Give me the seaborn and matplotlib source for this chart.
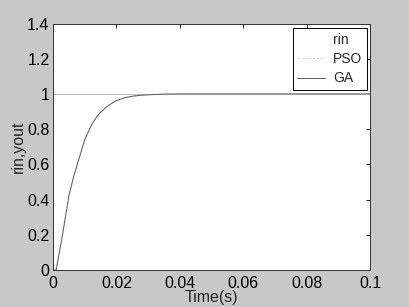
import matplotlib
matplotlib.use("Agg")
import matplotlib.pyplot as plt
import seaborn as sns
import numpy as np
import pandas as pd

# Data
t = [0.0, 0.001, 0.002, 0.003, 0.004, 0.005, 0.0065, 0.0075, 0.009, 0.010, 0.0115,
     0.0125, 0.014, 0.015, 0.0165, 0.0175, 0.019, 0.02, 0.0225, 0.025, 0.0275,
     0.03, 0.035, 0.04, 0.06, 0.08, 0.1]
ga = [0.0, 0.0, 0.10, 0.20, 0.31, 0.42, 0.53, 0.59, 0.68, 0.74, 0.80,
      0.835, 0.875, 0.895, 0.92, 0.935, 0.952, 0.962, 0.978, 0.987, 0.992,
      0.995, 0.999, 1.0, 1.0, 1.0, 1.0]
pso = [0.0, 0.0, 0.10, 0.20, 0.31, 0.42, 0.53, 0.59, 0.68, 0.74, 0.80,
       0.835, 0.875, 0.895, 0.92, 0.935, 0.952, 0.962, 0.978, 0.987, 0.992,
       0.995, 0.999, 1.0, 1.0, 1.0, 1.0]
rin = [1.0] * len(t)

xticks = [0, 0.02, 0.04, 0.06, 0.08, 0.1]
xticklabels = ["0", "0.02", "0.04", "0.06", "0.08", "0.1"]
yticks = [0, 0.2, 0.4, 0.6, 0.8, 1.0, 1.2, 1.4]
yticklabels = ["0", "0.2", "0.4", "0.6", "0.8", "1", "1.2", "1.4"]

sns.set_style("white")
plt.rcParams["font.family"] = ["Liberation Sans", "DejaVu Sans"]

bg = "#c8c8c8"
fs = 11.5
fig = plt.figure(figsize=(4.09, 3.07), dpi=100, facecolor=bg)
ax = fig.add_axes([53/409, 1 - 270/307, (370-53)/409, (270-23.5)/307])
ax.set_facecolor("white")

df = pd.DataFrame({"t": t, "rin": rin, "PSO": pso, "GA": ga})
sns.lineplot(data=df, x="t", y="rin", ax=ax, color="#bdbdbd", lw=0.8, label="rin")
sns.lineplot(data=df, x="t", y="PSO", ax=ax, color="#d8d8d8", lw=0.8, ls=(0, (2, 1.5)), label="PSO")
sns.lineplot(data=df, x="t", y="GA", ax=ax, color="#5a5a5a", lw=0.7, label="GA")

ax.set_xlim(0, 0.1)
ax.set_ylim(0, 1.4)
ax.set_xticks(xticks)
ax.set_xticklabels(xticklabels)
ax.set_yticks(yticks)
ax.set_yticklabels(yticklabels)
ax.tick_params(direction="in", length=3, width=0.6, top=True, right=True,
               labelsize=fs, colors="black")
ax.tick_params(axis="x", pad=4.5)
ax.tick_params(axis="y", pad=2.5)
for s in ax.spines.values():
    s.set_color("#333333")
    s.set_linewidth(0.7)
ax.set_xlabel("Time(s)", fontsize=fs, labelpad=-1)
ax.set_ylabel("rin,yout", fontsize=fs, labelpad=1)

handles, labels = ax.get_legend_handles_labels()
leg = ax.legend(handles, labels, loc="upper right", fontsize=10, frameon=True,
                fancybox=False, edgecolor="black", framealpha=1,
                handlelength=2.0, handletextpad=0.55, borderpad=0.35,
                labelspacing=0.38, borderaxespad=0,
                bbox_to_anchor=(1 - 3/317, 1 - 4.5/246.5))
leg.get_frame().set_linewidth(0.7)
leg.legend_handles[0].set_color("white")

fig.savefig("out.png", dpi=100, facecolor=bg)
